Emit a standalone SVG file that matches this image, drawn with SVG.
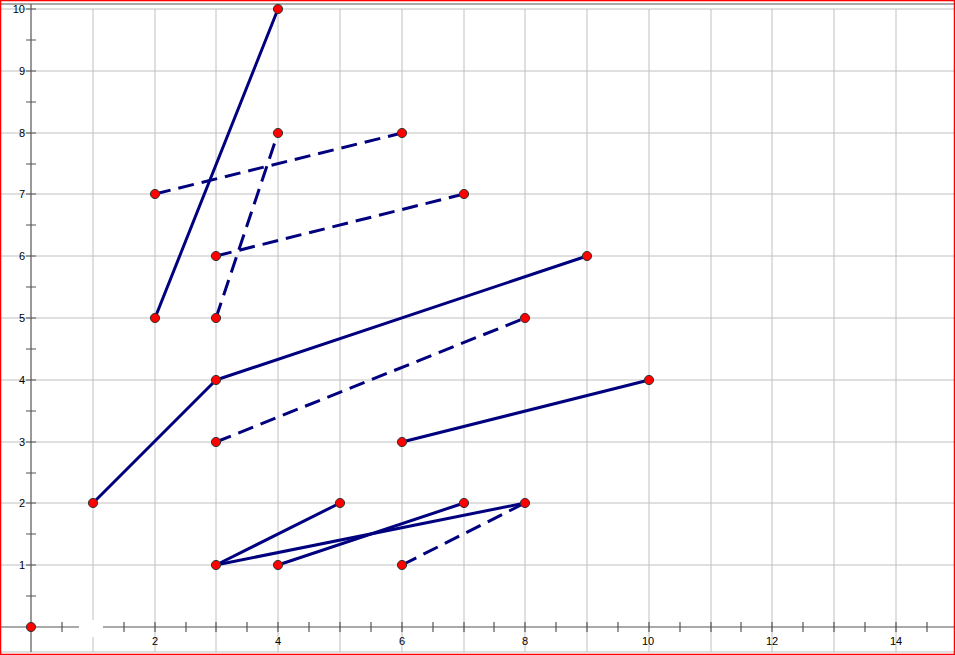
<svg xmlns="http://www.w3.org/2000/svg" width="955" height="655" viewBox="0 0 955 655">
<style>
.grid{stroke:#c0c0c0;stroke-width:1;fill:none}
.axis{stroke:#555;stroke-width:1.2;fill:none}
.seg{stroke:#00007f;stroke-width:3;fill:none;stroke-linecap:round}
.dash{stroke-dasharray:16 8;stroke-linecap:butt}
.pt{fill:#ff0000;stroke:#333;stroke-width:1}
.lbl{font-family:"Liberation Sans",Arial,sans-serif;font-size:11px;fill:#000}
</style>
<defs>
<circle id="p" r="4.6" class="pt"/>
</defs>
<rect x="0" y="0" width="955" height="655" fill="#fff"/>
<g id="grid">
<path class="grid" d="M93 9V652M155 9V652M216 9V652M278 9V652M340 9V652M402 9V652M464 9V652M525 9V652M587 9V652M649 9V652M711 9V652M772 9V652M834 9V652M896 9V652"/>
<path class="grid" d="M0 9H955M0 71H955M0 133H955M0 194H955M0 256H955M0 318H955M0 380H955M0 442H955M0 503H955M0 565H955"/>
<line x1="0" y1="652" x2="955" y2="652" class="grid"/>
</g>
<g id="axes">
<line x1="0" y1="4" x2="955" y2="4" class="axis"/>
<line x1="31" y1="4" x2="31" y2="652" class="axis"/>
<line x1="0" y1="627" x2="955" y2="627" class="axis"/>
<path class="axis" d="M62 622V632M93 622V632M124 622V632M155 622V632M186 622V632M216 622V632M247 622V632M278 622V632M309 622V632M340 622V632M371 622V632M402 622V632M433 622V632M464 622V632M494 622V632M525 622V632M556 622V632M587 622V632M618 622V632M649 622V632M680 622V632M711 622V632M741 622V632M772 622V632M803 622V632M834 622V632M865 622V632M896 622V632M927 622V632"/>
<path class="axis" d="M26 9H36M26 40H36M26 71H36M26 102H36M26 133H36M26 164H36M26 194H36M26 225H36M26 256H36M26 287H36M26 318H36M26 349H36M26 380H36M26 411H36M26 442H36M26 473H36M26 503H36M26 534H36M26 565H36M26 596H36"/>
<rect x="79" y="620" width="24" height="17" fill="#fff"/>
</g>
<g id="labels" class="lbl">
<g text-anchor="end">
<text x="25" y="13">10</text>
<text x="25" y="75">9</text>
<text x="25" y="137">8</text>
<text x="25" y="198">7</text>
<text x="25" y="260">6</text>
<text x="25" y="322">5</text>
<text x="25" y="384">4</text>
<text x="25" y="446">3</text>
<text x="25" y="507">2</text>
<text x="25" y="569">1</text>
</g>
<g text-anchor="middle">
<text x="155" y="645">2</text>
<text x="278" y="645">4</text>
<text x="402" y="645">6</text>
<text x="525" y="645">8</text>
<text x="648" y="645">10</text>
<text x="772" y="645">12</text>
<text x="896" y="645">14</text>
</g>
</g>
<g id="connectors">
<line class="seg" x1="155" y1="318" x2="278" y2="9"/>
<line class="seg" x1="93" y1="503" x2="216" y2="380"/>
<line class="seg" x1="216" y1="380" x2="587" y2="256"/>
<line class="seg" x1="402" y1="442" x2="649" y2="380"/>
<line class="seg" x1="216" y1="565" x2="340" y2="503"/>
<line class="seg" x1="216" y1="565" x2="525" y2="503"/>
<line class="seg" x1="278" y1="565" x2="464" y2="503"/>
<line class="seg dash" x1="155" y1="194" x2="402" y2="133"/>
<line class="seg dash" x1="216" y1="318" x2="278" y2="133"/>
<line class="seg dash" x1="216" y1="256" x2="464" y2="194"/>
<line class="seg dash" x1="216" y1="442" x2="525" y2="318"/>
<line class="seg dash" x1="402" y1="565" x2="525" y2="503"/>
</g>
<g id="points">
<use href="#p" x="31" y="627"/>
<use href="#p" x="278" y="9"/>
<use href="#p" x="278" y="133"/>
<use href="#p" x="402" y="133"/>
<use href="#p" x="155" y="194"/>
<use href="#p" x="464" y="194"/>
<use href="#p" x="216" y="256"/>
<use href="#p" x="587" y="256"/>
<use href="#p" x="155" y="318"/>
<use href="#p" x="216" y="318"/>
<use href="#p" x="525" y="318"/>
<use href="#p" x="216" y="380"/>
<use href="#p" x="649" y="380"/>
<use href="#p" x="216" y="442"/>
<use href="#p" x="402" y="442"/>
<use href="#p" x="93" y="503"/>
<use href="#p" x="340" y="503"/>
<use href="#p" x="464" y="503"/>
<use href="#p" x="525" y="503"/>
<use href="#p" x="216" y="565"/>
<use href="#p" x="278" y="565"/>
<use href="#p" x="402" y="565"/>
</g>
<rect x="0.5" y="0.5" width="954" height="654" fill="none" stroke="#ff0000" stroke-width="1.5"/>
</svg>
